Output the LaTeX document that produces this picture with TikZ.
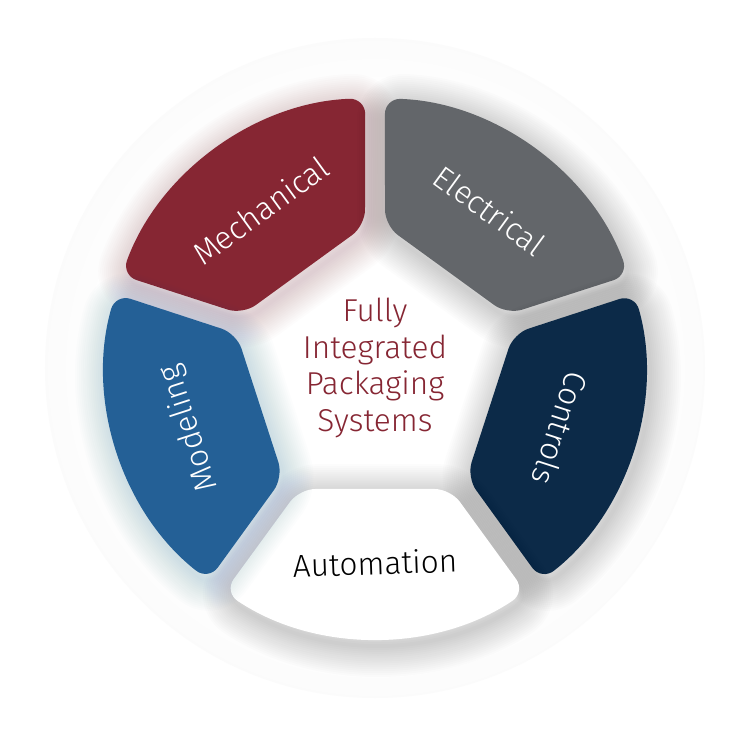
\documentclass[tikz,border=0pt]{standalone}
\usepackage{fontspec}
\setmainfont{Fira Sans Light}
\usetikzlibrary{calc}
\definecolor{mechred}{HTML}{862633}
\definecolor{elecgray}{HTML}{63666A}
\definecolor{ctrlnavy}{HTML}{0C2A48}
\definecolor{modblue}{HTML}{246096}
\pgfdeclareradialshading{halo}{\pgfpoint{0bp}{0bp}}{color(0bp)=(white); color(20bp)=(white); color(34bp)=(black!4); color(41bp)=(black!3); color(50bp)=(white)}
\tikzset{
  segment/.style={rounded corners=9pt, line join=round},
  seglabel/.style={font=\fontsize{18}{20}\selectfont},
  title/.style={font=\fontsize{18}{21}\selectfont, text=mechred, align=center}
}
\begin{document}
\begin{tikzpicture}[line join=round, line cap=round]
\useasboundingbox (0,0) rectangle (15,15);
\fill[white] (0,0) rectangle (15,15);
\coordinate (c) at (7.5,7.64);
% soft halo round the ring
\shade[shading=halo] (c) circle (6.6);
% five segments: angle / fill / label / text colour / glow / text rotation
\foreach \ang/\col/\txt/\tcol/\gc/\rot in {126/mechred/Mechanical/white/mechred/36,
    54/elecgray/Electrical/white/black/-36,
    -18/ctrlnavy/Controls/white/black/-108,
    -90/white/Automation/black/black/2,
    198/modblue/Modeling/white/modblue/108}{
  \begin{scope}[shift={(7.56,7.52)}, rotate=\ang-90]
    \foreach \w in {1,...,16}
      \draw[segment, draw=\gc, draw opacity=0.013, line width=\w*2.2pt]
        (-1.51,2.42) -- (-3.01,4.48) arc[start angle=123.9, end angle=56.1, radius=5.4] -- (1.51,2.42) -- cycle;
  \end{scope}
  \begin{scope}[shift={(c)}, rotate=\ang-90]
    \fill[segment, \col] (-1.51,2.42) -- (-3.01,4.48) arc[start angle=123.9, end angle=56.1, radius=5.4] -- (1.51,2.42) -- cycle;
  \end{scope}
  \node[seglabel, text=\tcol, rotate=\rot] (\txt) at ($(c)+(\ang:3.9)$) {\txt};
}
\node[title] (core) at (c) {Fully\\Integrated\\Packaging\\Systems};
\end{tikzpicture}
\end{document}
